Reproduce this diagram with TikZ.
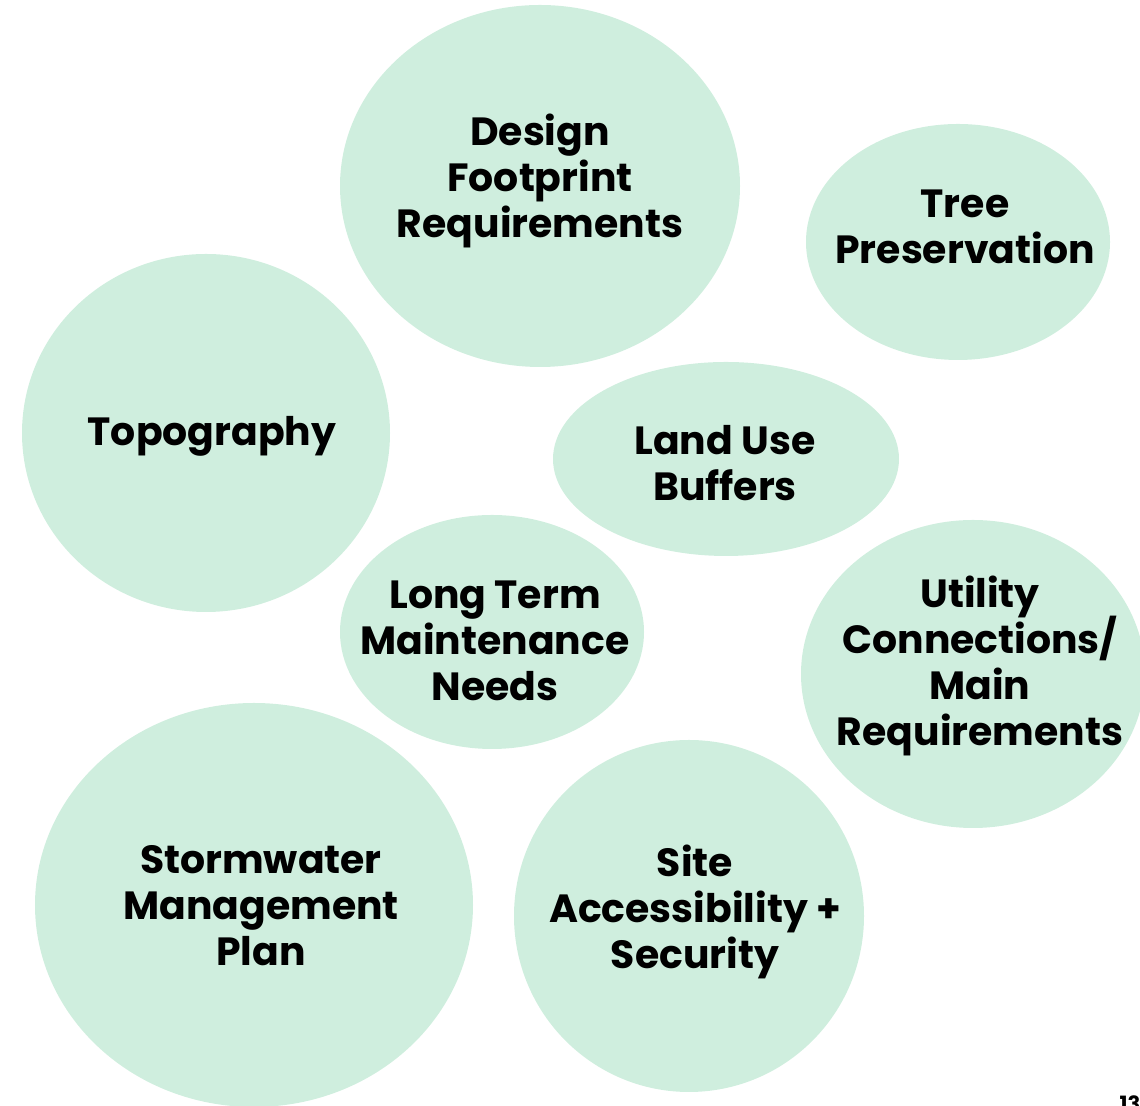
\documentclass[tikz,border=0pt]{standalone}
\usepackage{fontspec}
\setmainfont{Poppins}[BoldFont={* Bold}]
\usepackage{xcolor}
\definecolor{mint}{RGB}{207,238,222}
\newcommand{\bubble}[3]% center, xdim, ydim
{(#1) ellipse (#2 and #3)
}
\newcommand{\topicfont}{\bfseries\fontsize{11.2}{13.1}\selectfont
  \setlength{\lineskiplimit}{-10pt}}

\begin{document}
\begin{tikzpicture}[
    bubblefill/.style={fill=mint},
    topic/.style={align=center, font=\topicfont},
  ]
  \useasboundingbox (0,0) rectangle (11.40,11.06);
  \fill[bubblefill] \bubble{5.40,9.20}{2.00}{1.81};
  \fill[bubblefill] \bubble{9.58,8.64}{1.52}{1.18};
  \fill[bubblefill] \bubble{2.06,6.73}{1.84}{1.79};
  \fill[bubblefill] \bubble{7.26,6.47}{1.73}{0.97};
  \fill[bubblefill] \bubble{4.92,4.74}{1.52}{1.17};
  \fill[bubblefill] \bubble{9.73,4.32}{1.72}{1.54};
  \fill[bubblefill] \bubble{2.54,2.01}{2.19}{2.02};
  \fill[bubblefill] \bubble{6.89,1.90}{1.75}{1.76};
  \node[topic] (design) at (5.40,9.25) {Design\\Footprint\\Requirements};
  \node[topic] (tree) at (9.65,8.79) {Tree\\Preservation};
  \node[topic] (topo) at (2.12,6.70) {Topography};
  \node[topic] (landuse) at (7.25,6.43) {Land Use\\Buffers};
  \node[topic] (longterm) at (4.95,4.65) {Long Term\\Maintenance\\Needs};
  \node[topic] (utility) at (9.80,4.40) {Utility\\Connections/\\Main\\Requirements};
  \node[topic] (storm) at (2.61,2.00) {Stormwater\\Management\\Plan};
  \node[topic] (site) at (6.95,1.94) {Site\\Accessibility +\\Security};
  % page number, cut by the lower edge
  \node[font=\bfseries\fontsize{6}{7}\selectfont] (pageno) at (11.30,0.02) {13};
\end{tikzpicture}
\end{document}
